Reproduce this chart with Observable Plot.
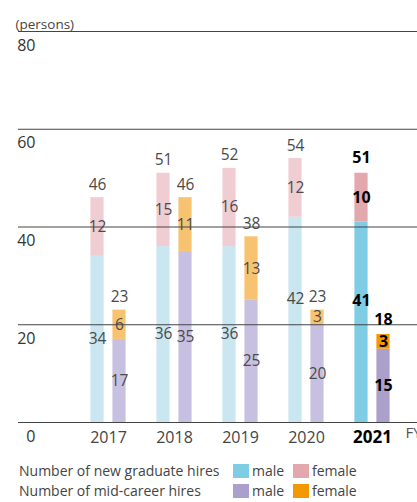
<!DOCTYPE html>
<html>
<head>
<meta charset="utf-8">
<script src="https://cdn.jsdelivr.net/npm/d3@7"></script>
<script src="https://cdn.jsdelivr.net/npm/@observablehq/plot@0.6"></script>
<style>
  body { margin: 0; background: #fff; font-family: "Open Sans", sans-serif; }
  #chart svg { display: block; }
  .legend { position: relative; height: 50px; font-size: 14px; color: #444; }
  .sw { position: absolute; width: 16px; height: 14px; }
  .tx { position: absolute; white-space: nowrap; }
</style>
</head>
<body>
<div id="chart"></div>
<script>
const years = ["2017", "2018", "2019", "2020", "2021"];
const gradMale = [34, 36, 36, 42, 41];
const gradFemale = [12, 15, 16, 12, 10];
const midMale = [17, 35, 25, 20, 15];
const midFemale = [6, 11, 13, 3, 3];
const yTicks = [0, 20, 40, 60, 80];
const seriesLabels = ["Number of new graduate hires", "Number of mid-career hires"];
const sexLabels = ["male", "female"];

const colors = {
  grad: {male: ["#c9e6f1", "#7ecde4"], female: ["#f0cdd3", "#e3a8ae"]},
  mid: {male: ["#c8c0e0", "#ab9fcc"], female: ["#f8c371", "#f39800"]}
};

const rows = [];
const totals = [];
years.forEach((year, i) => {
  const cur = year === "2021" ? 1 : 0;
  [["grad", gradMale[i], gradFemale[i]], ["mid", midMale[i], midFemale[i]]].forEach(([type, m, f]) => {
    rows.push({year, type, sex: "male", value: m, y1: 0, y2: m, fill: colors[type].male[cur], cur});
    rows.push({year, type, sex: "female", value: f, y1: m, y2: m + f, fill: colors[type].female[cur], cur});
    totals.push({year, type, value: m + f, cur});
  });
});

const bw = 66.75;
const inset = {grad: [15.4, 37.4], mid: [37.4, 15.4]};
const off = {grad: -11, mid: 11};
// labels of the tall graduate-male segments in the last two years sit higher in the original
const raised = d => d.type === "grad" && d.sex === "male" && (d.year === "2020" || d.year === "2021");

const marks = [];
for (const type of ["grad", "mid"]) {
  marks.push(Plot.rectY(rows.filter(d => d.type === type), {
    x: "year", y1: "y1", y2: "y2", fill: "fill",
    insetLeft: inset[type][0], insetRight: inset[type][1]
  }));
}
marks.push(Plot.ruleY(yTicks, {stroke: "#444", strokeWidth: 1.2}));
for (const type of ["grad", "mid"]) {
  for (const cur of [0, 1]) {
    const style = cur ? {fill: "#000", fontWeight: "bold", fontSize: 16} : {fill: "#4a4a4a", fontSize: 15.5};
    const segs = rows.filter(d => d.type === type && d.cur === cur);
    marks.push(Plot.text(segs.filter(d => !raised(d)), {
      x: "year", y: d => (d.y1 + d.y2) / 2, text: d => String(d.value), dx: off[type], ...style
    }));
    marks.push(Plot.text(segs.filter(raised), {
      x: "year", y: d => (d.y1 + d.y2) / 2, text: d => String(d.value), dx: off[type], dy: -21, ...style
    }));
    marks.push(Plot.text(totals.filter(d => d.type === type && d.cur === cur), {
      x: "year", y: "value", text: d => String(d.value), dx: off[type], dy: cur ? -15 : -13, ...style
    }));
  }
}
marks.push(Plot.axisY({ticks: yTicks, tickSize: 0, tickPadding: 0, dx: 17, dy: 14, textAnchor: "end", fontSize: 16, fill: "#333", label: null}));
marks.push(Plot.axisX({ticks: years.slice(0, 4), tickSize: 0, tickPadding: 9, fontSize: 16, fill: "#444", label: null}));
marks.push(Plot.axisX({ticks: ["2021"], tickSize: 0, tickPadding: 8, fontSize: 17, fontWeight: "bold", fill: "#000", label: null}));
marks.push(Plot.text(["FY"], {frameAnchor: "bottom-right", dx: -12, dy: 15, textAnchor: "start", fontSize: 15, fill: "#555"}));
marks.push(Plot.text(["(persons)"], {frameAnchor: "top-left", dx: -3, dy: -12, textAnchor: "start", fontSize: 13.5, fill: "#444"}));

const chart = Plot.plot({
  width: 417,
  height: 452,
  marginLeft: 18,
  marginRight: 0,
  marginTop: 31,
  marginBottom: 30,
  style: {fontFamily: "Open Sans, sans-serif", overflow: "visible", background: "#fff"},
  x: {type: "band", domain: years, range: [73.6, 73.6 + bw * 5], padding: 0, axis: null},
  y: {domain: [0, 80], axis: null},
  color: {type: "identity"},
  marks
});
document.getElementById("chart").appendChild(chart);

// legend
const legend = document.createElement("div");
legend.className = "legend";
const legendColors = [[colors.grad.male[1], colors.grad.female[1]], [colors.mid.male[1], colors.mid.female[1]]];
seriesLabels.forEach((lab, r) => {
  const top = 12 + r * 20;
  const sw1 = document.createElement("div"); sw1.className = "sw";
  sw1.style.cssText = `left:233px;top:${top}px;background:${legendColors[r][0]}`;
  const sw2 = document.createElement("div"); sw2.className = "sw";
  sw2.style.cssText = `left:293px;top:${top}px;background:${legendColors[r][1]}`;
  const t0 = document.createElement("div"); t0.className = "tx"; t0.textContent = lab;
  t0.style.cssText = `left:19px;top:${top - 4}px;line-height:22px`;
  const t1 = document.createElement("div"); t1.className = "tx"; t1.textContent = sexLabels[0];
  t1.style.cssText = `left:252px;top:${top - 4}px;line-height:22px`;
  const t2 = document.createElement("div"); t2.className = "tx"; t2.textContent = sexLabels[1];
  t2.style.cssText = `left:312px;top:${top - 4}px;line-height:22px`;
  legend.append(sw1, sw2, t0, t1, t2);
});
document.body.appendChild(legend);
</script>
</body>
</html>
